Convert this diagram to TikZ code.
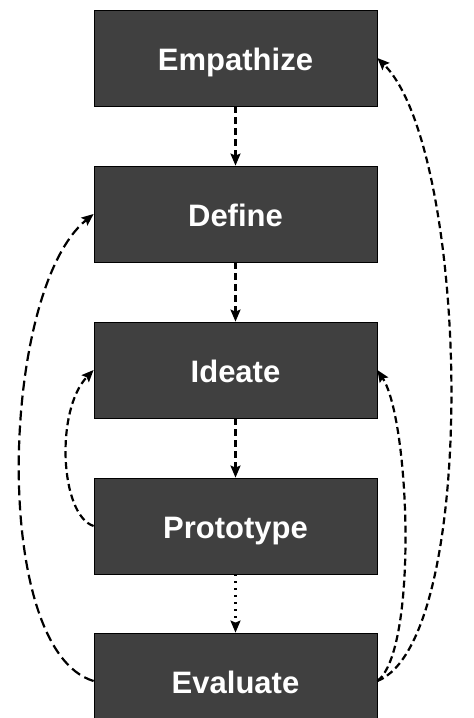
\documentclass[tikz,border=0pt]{standalone}
\usepackage{fontspec}
\setmainfont{Liberation Sans}
\usetikzlibrary{arrows.meta}
\definecolor{boxgray}{HTML}{404040}
\tikzset{
  stage/.style={draw=black, line width=0.8pt, fill=boxgray, text=white,
    minimum width=283pt, minimum height=96pt, inner sep=0pt,
    text height=24pt, text depth=0pt,
    font=\fontsize{31}{36}\selectfont\bfseries},
  flow/.style={line width=2.2pt, dash pattern=on 7pt off 4pt,
    -{Stealth[length=12pt,width=10pt,inset=2pt]}},
  dotflow/.style={line width=2.2pt, dash pattern=on 2pt off 5pt,
    -{Stealth[length=12pt,width=10pt,inset=2pt]}},
  loopback/.style={line width=2.2pt, dash pattern=on 10pt off 5pt,
    -{Stealth[length=12pt,width=10pt,inset=2pt]}},
}
\begin{document}
\begin{tikzpicture}[x=1pt,y=-1pt]
\useasboundingbox (0,0) rectangle (474,718);
\clip (0,0) rectangle (474,718);
\node[stage] (emp) at (235.5,58) {Empathize};
\node[stage] (def) at (235.5,214) {Define};
\node[stage] (ide) at (235.5,370) {Ideate};
\node[stage] (pro) at (235.5,526) {Prototype};
\node[stage] (eva) at (235.5,681) {Evaluate};
\draw[flow] (emp.south) -- (def.north);
\draw[flow] (def.south) -- (ide.north);
\draw[flow] (ide.south) -- (pro.north);
\draw[dotflow] (pro.south) -- (eva.north);
\draw[loopback] (eva.west) .. controls (-10,650) and (0,290) .. (def.west);
\draw[flow] (pro.west) .. controls (60,515) and (55,410) .. (ide.west);
\draw[flow] (eva.east) .. controls (418,650) and (410,420) .. (ide.east);
\draw[flow] (eva.east) .. controls (480,640) and (470,150) .. (emp.east);
\end{tikzpicture}
\end{document}
